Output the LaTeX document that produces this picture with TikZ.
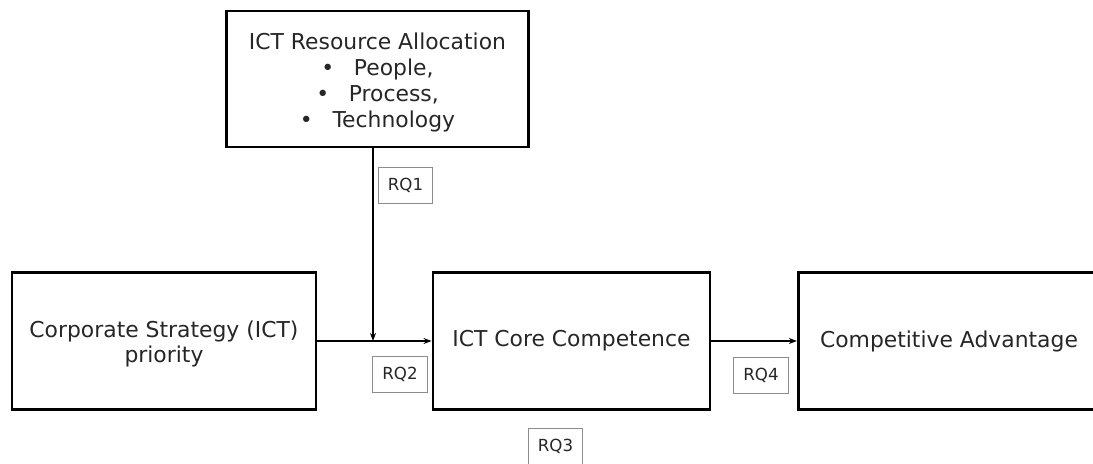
\documentclass[tikz,border=0pt]{standalone}
\usepackage{fontspec}
\setmainfont{DejaVu Sans}
\usetikzlibrary{arrows.meta}
\newcommand{\lowered}[2]{\raisebox{#1}[\height][\depth]{\begin{tabular}{@{}c@{}}#2\end{tabular}}}
\begin{document}
\begin{tikzpicture}[x=0.75pt,y=-0.75pt,
  bigbox/.style={draw=black,line width=2.2pt,inner sep=0pt,align=center,font=\fontsize{16.4}{19}\selectfont,text=black!85},
  rqbox/.style={draw=black!45,line width=0.6pt,minimum width=41pt,minimum height=27pt,inner sep=0pt,font=\fontsize{12.5}{14}\selectfont,text=black!85},
  conn/.style={line width=1.1pt,-{Stealth[length=6pt,width=4.5pt]}}]
\useasboundingbox (0,0) rectangle (1093,464);
\clip (0,0) rectangle (1093,464);
\node[bigbox,minimum width=227pt,minimum height=102pt,font=\fontsize{16.4}{19.5}\selectfont] (top) at (377.5,79)
  {\lowered{-3pt}{ICT Resource Allocation\\ •\hspace{0.9em}People,\\ •\hspace{0.9em}Process,\\ •\hspace{0.9em}Technology}};
\node[bigbox,minimum width=228pt,minimum height=103pt,font=\fontsize{16.4}{18.8}\selectfont] (left) at (164,341)
  {\lowered{-3pt}{Corporate Strategy (ICT)\\priority}};
\node[bigbox,minimum width=207.75pt,minimum height=103pt] (mid) at (571.5,341)
  {ICT Core Competence};
\node[bigbox,minimum width=226pt,minimum height=103pt] (right) at (949,341)
  {Competitive Advantage};
\coordinate (j) at (373,341);
\draw[conn] (left.east) -- (mid.west);
\draw[conn] (top.south -| j) -- (j);
\draw[conn] (mid.east) -- (right.west);
\node[rqbox] (rq1) at (405.5,185) {RQ1};
\node[rqbox] (rq2) at (400,374.5) {RQ2};
\node[rqbox] (rq4) at (761,375.5) {RQ4};
\node[rqbox] (rq3) at (555.5,446) {RQ3};
\end{tikzpicture}
\end{document}
